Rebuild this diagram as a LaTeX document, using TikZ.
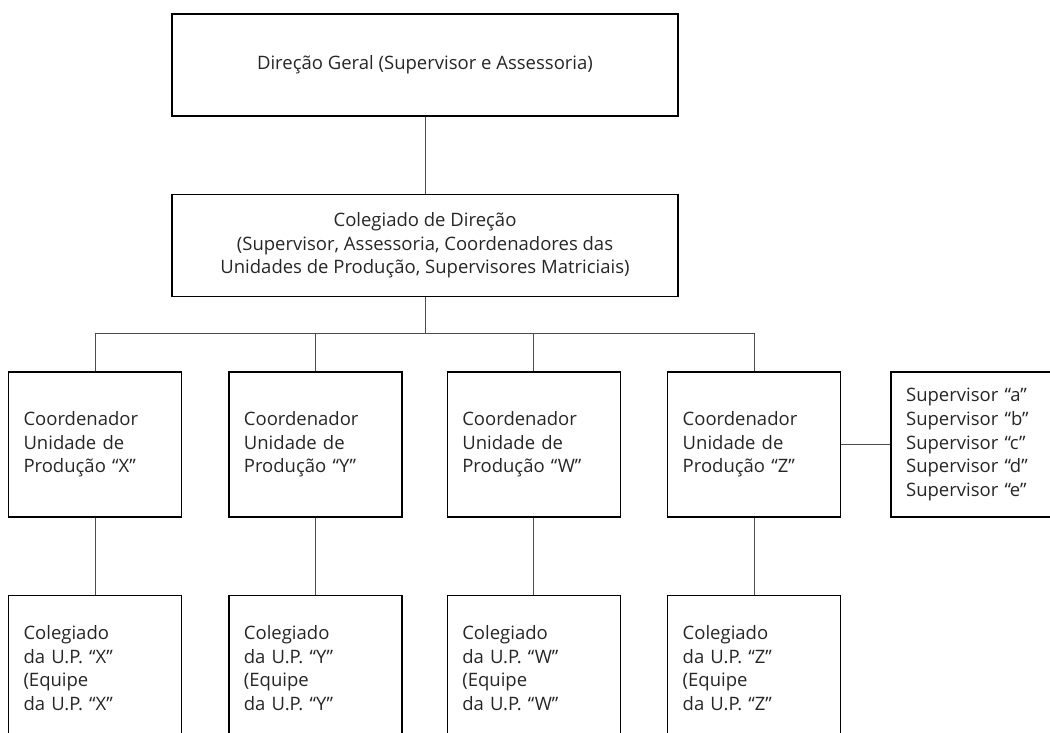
\documentclass[tikz,border=0pt]{standalone}
\usepackage{fontspec}
\setmainfont{Open Sans}
\usetikzlibrary{positioning}

\begin{document}
\begin{tikzpicture}[
    x=1pt, y=-1pt,
    node distance=77pt,
    every node/.style={font=\fontsize{18.5}{23.6}\selectfont, text=black!85},
    chefe/.style={rectangle, draw, line width=1.4pt, minimum width=506pt, minimum height=102pt, align=center, inner sep=0pt},
    unidade/.style={rectangle, draw, line width=1.4pt, text width=143pt, inner xsep=15pt, inner ysep=0pt, minimum height=145pt, align=left},
    linha/.style={draw=black!70, line width=1pt}
]

\clip (0,0) rectangle (1050,733);

% Direcao
\node[chefe] (geral) at (425,65) {Direção Geral (Supervisor e Assessoria)};
\node[chefe, below=of geral] (colegiado) {Colegiado de Direção\\(Supervisor, Assessoria, Coordenadores das\\Unidades de Produção, Supervisores Matriciais)};

% Coordenadores
\node[unidade] (coordX) at (95,444.5) {Coordenador\\Unidade de\\Produção “X”};
\node[unidade, right=46pt of coordX] (coordY) {Coordenador\\Unidade de\\Produção “Y”};
\node[unidade, right=44pt of coordY] (coordW) {Coordenador\\Unidade de\\Produção “W”};
\node[unidade, right=46pt of coordW] (coordZ) {Coordenador\\Unidade de\\Produção “Z”};

% Supervisores matriciais
\node[unidade, right=49pt of coordZ] (superv) {Supervisor “a”\\Supervisor “b”\\Supervisor “c”\\Supervisor “d”\\Supervisor “e”};

% Colegiados das U.P.
\node[unidade, below=of coordX] (colegX) {Colegiado\\da U.P. “X”\\(Equipe\\da U.P. “X”};
\node[unidade, below=of coordY] (colegY) {Colegiado\\da U.P. “Y”\\(Equipe\\da U.P. “Y”};
\node[unidade, below=of coordW] (colegW) {Colegiado\\da U.P. “W”\\(Equipe\\da U.P. “W”};
\node[unidade, below=of coordZ] (colegZ) {Colegiado\\da U.P. “Z”\\(Equipe\\da U.P. “Z”};

% Linhas
\coordinate (bus) at (425,333);
\draw[linha] (geral) -- (colegiado);
\draw[linha] (colegiado) -- (bus);
\draw[linha] (bus -| coordX) -- (bus -| coordZ);
\foreach \u in {X,Y,W,Z} {
    \draw[linha] (bus -| coord\u) -- (coord\u);
    \draw[linha] (coord\u) -- (coleg\u);
}
\draw[linha] (coordZ) -- (superv);

\end{tikzpicture}
\end{document}
